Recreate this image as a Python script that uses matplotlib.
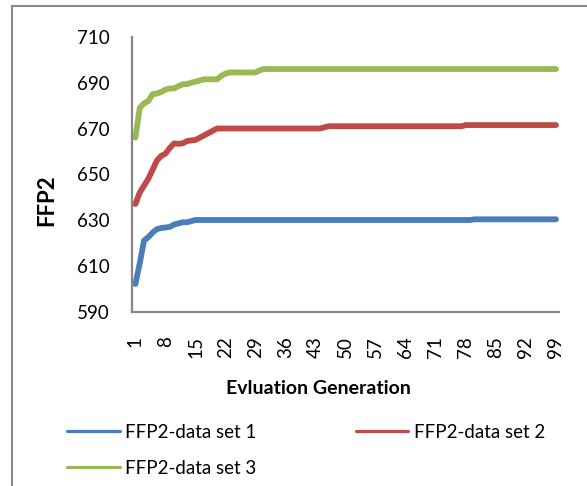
import numpy as np
import matplotlib
matplotlib.use("Agg")
import matplotlib.pyplot as plt
from matplotlib.lines import Line2D
from matplotlib.patches import Rectangle

plt.rcParams['font.family'] = ['Lato', 'DejaVu Sans']

generations = np.arange(1, 100)
tick_labels = ['1', '8', '15', '22', '29', '36', '43', '50', '57', '64',
               '71', '78', '85', '92', '99']

ffp2_set1 = [602, 611, 621, 622.5, 624.5, 626, 626.5, 626.7, 627, 628,
             628.5, 629, 629, 629.5, 630, 630, 630, 630, 630, 630,
             630, 630, 630, 630, 630, 630, 630, 630, 630, 630,
             630, 630, 630, 630, 630, 630, 630, 630, 630, 630,
             630, 630, 630, 630, 630, 630, 630, 630, 630, 630,
             630, 630, 630, 630, 630, 630, 630, 630, 630, 630,
             630, 630, 630, 630, 630, 630, 630, 630, 630, 630,
             630, 630, 630, 630, 630, 630, 630, 630, 630, 630.3,
             630.3, 630.3, 630.3, 630.3, 630.3, 630.3, 630.3, 630.3, 630.3, 630.3,
             630.3, 630.3, 630.3, 630.3, 630.3, 630.3, 630.3, 630.3, 630.3]

ffp2_set2 = [637, 642, 645, 648, 652, 656, 658, 659, 661.5, 663.5,
             663.3, 663.5, 664.5, 664.8, 665, 666, 667, 668, 669, 670,
             670, 670, 670, 670, 670, 670, 670, 670, 670, 670,
             670, 670, 670, 670, 670, 670, 670, 670, 670, 670,
             670, 670, 670, 670, 670.5, 671, 671, 671, 671, 671,
             671, 671, 671, 671, 671, 671, 671, 671, 671, 671,
             671, 671, 671, 671, 671, 671, 671, 671, 671, 671,
             671, 671, 671, 671, 671, 671, 671, 671.5, 671.5, 671.5,
             671.5, 671.5, 671.5, 671.5, 671.5, 671.5, 671.5, 671.5, 671.5, 671.5,
             671.5, 671.5, 671.5, 671.5, 671.5, 671.5, 671.5, 671.5, 671.5]

ffp2_set3 = [666, 679, 681, 682, 685, 685.3, 686, 687, 687.5, 687.5,
             688.5, 689.3, 689.4, 690, 690.5, 691, 691.5, 691.5, 691.5, 691.5,
             693, 694, 694.5, 694.5, 694.5, 694.5, 694.5, 694.5, 694.5, 695.5,
             696, 696, 696, 696, 696, 696, 696, 696, 696, 696,
             696, 696, 696, 696, 696, 696, 696, 696, 696, 696,
             696, 696, 696, 696, 696, 696, 696, 696, 696, 696,
             696, 696, 696, 696, 696, 696, 696, 696, 696, 696,
             696, 696, 696, 696, 696, 696, 696, 696, 696, 696,
             696, 696, 696, 696, 696, 696, 696, 696, 696, 696,
             696, 696, 696, 696, 696, 696, 696, 696, 696]

series_names = ['FFP2-data set 1', 'FFP2-data set 2', 'FFP2-data set 3']
colors = ['#4A7EBB', '#BE4B48', '#98B954']

fig = plt.figure(figsize=(5.87, 4.86), dpi=100)
# outer chart border, cut off on the right and bottom
fig.patches.append(Rectangle((11.5 / 587, -0.05), 1.0, 1.05 - 6.5 / 486,
                             transform=fig.transFigure, fill=False,
                             edgecolor='#898989', linewidth=1.5))

ax = fig.add_axes([132 / 587, 1 - 311.5 / 486, 427 / 587, 274.5 / 486])
for vals, c in zip([ffp2_set1, ffp2_set2, ffp2_set3], colors):
    ax.plot(generations, vals, color=c, linewidth=4.2, solid_capstyle='round',
            solid_joinstyle='round')

ax.set_ylim(590, 710)
ax.set_yticks(np.arange(590, 711, 20))
ax.set_xlim(0.2, 99.7)
ax.set_xticks([int(t) for t in tick_labels])
ax.set_xticklabels(tick_labels, rotation=90, va='top', ha='center')
ax.tick_params(axis='both', length=0, labelsize=13.5, colors='black')
ax.tick_params(axis='x', pad=17.5)
ax.tick_params(axis='y', pad=16)
for side in ['top', 'right']:
    ax.spines[side].set_visible(False)
for side in ['left', 'bottom']:
    ax.spines[side].set_color('#868686')
    ax.spines[side].set_linewidth(1.6)

fig.text(46.7 / 587, 1 - 200 / 486, 'FFP2', rotation=90, ha='center',
         va='center', fontsize=16, fontweight='bold')
fig.text(318.5 / 587, 1 - 389 / 486, 'Evluation Generation', ha='center',
         va='center', fontsize=14, fontweight='bold')

handles = [Line2D([], [], color=c, linewidth=2.3, solid_capstyle='round')
           for c in colors]
order = [0, 2, 1]
fig.legend([handles[i] for i in order], [series_names[i] for i in order],
           ncol=2, loc='upper left', bbox_to_anchor=(67 / 587, 1 - 424 / 486),
           frameon=False, fontsize=13.5, handlelength=2.8, handletextpad=0.3,
           columnspacing=5.3, labelspacing=1.0, borderpad=0, borderaxespad=0)

fig.savefig('out.png', dpi=100)
